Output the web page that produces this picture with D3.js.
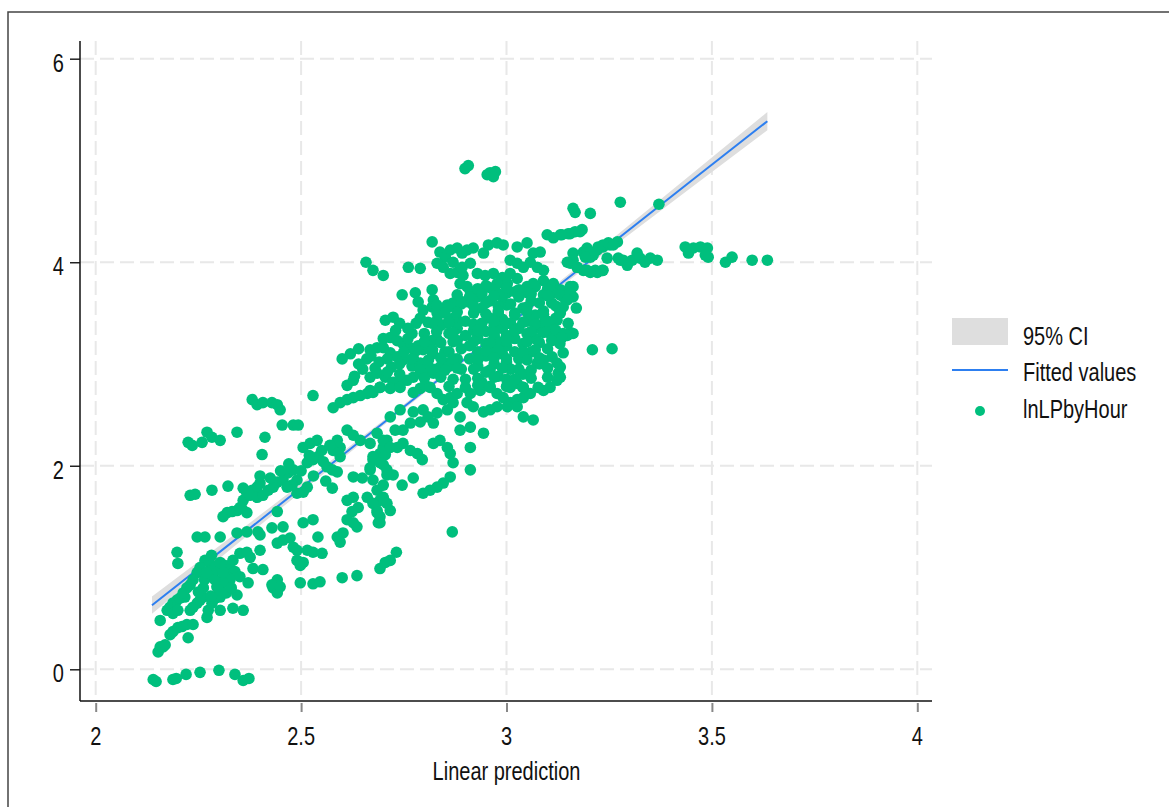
<!DOCTYPE html>
<html>
<head>
<meta charset="utf-8">
<script src="https://cdn.jsdelivr.net/npm/d3@7"></script>
<style>
  body { margin: 0; background: #fff; }
  svg text { font-family: 'Liberation Sans', Arial, sans-serif; fill: #111; }
</style>
</head>
<body>
<svg id="chart" width="1169" height="807"></svg>
<script>
// axis ticks
var xTicks = [2, 2.5, 3, 3.5, 4];
var yTicks = [0, 2, 4, 6];
var xTitle = 'Linear prediction';
var legendLabels = ['95% CI', 'Fitted values', 'lnLPbyHour'];

// fitted line and confidence band
var fitX = [2.137, 2.4, 2.7, 2.95, 3.2, 3.45, 3.635];
var fitY = [0.63, 1.465, 2.42, 3.211, 4.005, 4.80, 5.386];
var ciLow = [0.545, 1.415, 2.395, 3.191, 3.97, 4.735, 5.296];
var ciHigh = [0.715, 1.515, 2.445, 3.231, 4.04, 4.865, 5.476];

// scatter
var bottomRow = [[2.14,-0.10],[2.147,-0.12],[2.188,-0.10],[2.196,-0.09],[2.22,-0.05],[2.254,-0.03],[2.30,-0.01],[2.339,-0.05],[2.359,-0.11],[2.373,-0.09]];

var lowerLeft = [[2.157,0.22],[2.152,0.17],[2.164,0.22],[2.169,0.24],[2.181,0.34],[2.188,0.37],[2.20,0.41],[2.21,0.42],[2.222,0.44],[2.237,0.44],[2.225,0.31],
  [2.157,0.48],[2.174,0.58],[2.181,0.61],[2.188,0.65],[2.198,0.68],[2.205,0.70],[2.217,0.71],[2.188,0.55],[2.20,0.58],
  [2.23,0.58],[2.237,0.61],[2.247,0.65],[2.254,0.68],[2.261,0.71],[2.271,0.51],[2.274,0.58],[2.283,0.65],[2.291,0.70],[2.303,0.71],[2.303,0.58],
  [2.278,1.04],[2.291,1.00],[2.303,1.05],[2.315,1.02],[2.327,0.99],[2.339,0.96],[2.351,0.91],[2.32,0.91],[2.308,0.88],[2.295,0.81],[2.334,1.07],
  [2.351,1.14],[2.368,1.15],[2.376,1.10],[2.371,0.85],[2.344,0.73],[2.334,0.60],[2.359,0.58],[2.327,0.88],[2.31,0.85],
  [2.266,1.07],[2.254,1.00],[2.247,0.95],[2.237,0.88],[2.23,0.83],[2.222,0.80],[2.213,0.75],[2.198,1.15],[2.20,1.04],
  [2.247,1.30],[2.266,1.30],[2.303,1.30],[2.344,1.34],[2.368,1.35],[2.40,1.32],[2.395,1.35],[2.40,1.17],[2.383,0.99],[2.407,0.98],
  [2.442,0.88],[2.432,0.80],[2.429,0.83],[2.442,0.75],[2.449,0.81],[2.498,0.85],[2.529,0.84],[2.546,0.86],[2.60,0.90],[2.636,0.92],
  [2.692,0.99],[2.705,1.05],[2.732,1.15],[2.717,1.07],
  [2.285,0.93],[2.300,0.78],[2.265,0.88],[2.318,0.75],[2.282,1.12],[2.262,0.80],
  [2.27,0.95],[2.29,0.88],[2.31,0.95],[2.33,0.80],[2.25,0.76],[2.28,0.72]];

var leftBand = [[2.23,1.71],[2.242,1.72],[2.283,1.76],[2.322,1.80],[2.31,1.50],[2.32,1.54],[2.332,1.55],[2.344,1.56],[2.356,1.58],[2.368,1.54],
  [2.351,1.59],[2.359,1.66],[2.368,1.73],[2.381,1.76],[2.393,1.79],[2.40,1.83],[2.359,1.78],[2.376,1.71],[2.393,1.69],[2.407,1.71],[2.42,1.76],
  [2.432,1.79],[2.442,1.84],[2.456,1.86],[2.468,1.93],[2.481,1.96],[2.442,1.55],[2.456,1.40],[2.429,1.39],[2.442,1.24],[2.456,1.27],[2.473,1.29],
  [2.481,1.20],[2.49,1.17],[2.49,1.07],[2.498,1.02],[2.505,1.05],[2.505,1.44],[2.529,1.47],[2.515,1.17],[2.529,1.15],[2.551,1.14],[2.541,1.30],
  [2.49,1.73],[2.505,1.74],[2.515,1.79],[2.49,1.86],[2.478,1.81],[2.466,1.79],[2.505,2.18],[2.522,2.22],[2.539,2.25],
  [2.515,2.03],[2.529,2.06],[2.541,2.09],[2.554,2.04],[2.563,1.99],[2.576,1.96],[2.588,1.94],[2.576,1.78],
  [2.225,2.23],[2.235,2.20],[2.259,2.23],[2.271,2.33],[2.283,2.28],[2.303,2.25],[2.344,2.33],
  [2.381,2.65],[2.393,2.60],[2.407,2.62],[2.429,2.62],[2.442,2.60],[2.449,2.55],[2.412,2.28],[2.405,2.11],
  [2.454,2.40],[2.481,2.40],[2.493,2.40],[2.529,2.69],[2.578,2.57],[2.595,2.62],[2.612,2.65],[2.627,2.67],[2.644,2.69],[2.661,2.71],
  [2.675,2.72],[2.692,2.77],[2.612,2.79],[2.627,2.84],[2.612,2.35],[2.627,2.30],[2.644,2.25],[2.588,2.25],[2.595,2.18],[2.578,2.15],[2.595,2.09],
  [2.627,1.89],[2.649,1.88],[2.668,1.96],[2.612,1.66],[2.627,1.69],[2.639,1.59],[2.624,1.55],[2.612,1.47],[2.627,1.44],[2.636,1.40],
  [2.602,1.34],[2.588,1.30],[2.595,1.25],[2.668,1.98],[2.675,2.06],[2.692,2.12],[2.70,2.18],[2.709,2.25],[2.675,1.86],[2.685,1.76],
  [2.692,1.66],[2.685,1.56],[2.692,1.50],[2.688,1.44],[2.661,1.69],[2.675,1.63],[2.705,2.11],[2.70,2.01],[2.709,1.91],[2.70,1.81],
  [2.62,3.10],[2.64,3.15],[2.60,3.05],[2.65,2.95],[2.63,2.88],
  [2.40,1.90],[2.425,1.88],[2.45,1.95],[2.47,2.02],[2.50,1.95],[2.53,1.90],[2.56,1.85],
  [2.55,2.15],[2.57,2.20],[2.52,2.10]];

var midGroup = [[2.675,3.92],[2.70,3.87],[2.761,3.95],[2.79,3.94],[2.746,3.68],[2.778,3.70],[2.785,3.61],[2.819,3.73],[2.822,3.63],
  [2.797,3.53],[2.819,3.56],[2.831,3.50],[2.846,3.53],[2.856,3.58],[2.87,3.60],[2.892,3.61],[2.907,3.61],[2.705,3.43],[2.724,3.46],
  [2.809,3.41],[2.831,3.43],[2.856,3.40],[2.88,3.43],[2.863,3.89],[2.88,3.90],[2.894,3.87],[2.887,3.79],[2.904,3.76],[2.912,3.71],
  [2.929,3.89],[2.948,3.87],[2.968,3.89],[2.99,3.85],[3.009,3.89],[3.026,3.84],[3.002,3.79],[2.977,3.79],[2.96,3.75],[2.977,3.70],[3.002,3.70],[3.021,3.71],
  [3.05,3.76],[3.065,3.79],[3.09,3.82],[3.114,3.79],[3.131,3.73],[3.155,3.76],[3.162,3.66],[3.138,3.66],[3.114,3.70],[3.09,3.68],
  [2.717,3.26],[2.734,3.23],[2.748,3.20],[2.766,3.16],[2.785,3.18],[2.797,3.14],[2.668,3.14],[2.685,3.16],[2.70,3.16],[2.717,3.11],
  [2.734,3.07],[2.748,3.04],[2.773,3.06],[2.79,3.01],[2.807,3.01],[2.668,2.87],[2.685,2.91],[2.705,2.87],[2.724,2.82],[2.741,2.81],
  [2.758,2.84],[2.773,2.87],[2.79,2.91],[2.807,2.94],[2.822,2.91],[2.838,2.97],[2.856,3.01],[2.668,2.74],[2.692,2.77],[2.717,2.76],[2.741,2.77],
  [2.814,3.20],[2.819,3.23],[2.773,2.72],[2.79,2.76],[2.802,2.79],[2.814,2.77],[2.831,2.71],[2.846,2.65],[2.863,2.67],[2.88,2.71],
  [2.741,2.55],[2.773,2.53],[2.797,2.55],[2.809,2.48],[2.79,2.43],[2.822,2.42],[2.831,2.52],[2.856,2.55],[2.87,2.62],
  [2.904,2.62],[2.919,2.58],[2.944,2.53],[2.96,2.55],[2.977,2.58],[2.912,2.71],[2.936,2.74],[2.96,2.77],[2.977,2.71],
  [2.992,2.67],[3.009,2.62],[3.026,2.65],[3.041,2.67],[3.058,2.71],[3.041,2.77],[3.026,2.81],[3.009,2.77],
  [3.002,2.58],[3.026,2.58],[3.041,2.48],[3.065,2.45],[3.075,3.01],[3.09,3.04],[3.111,3.07],[3.123,3.01],[3.126,2.91],[3.123,2.84],
  [3.106,2.77],[3.09,2.74],[3.077,2.77],[3.106,3.30],[3.123,3.26],[3.138,3.30],[3.155,3.31],[3.09,3.40],[3.106,3.36],[3.123,3.43],
  [3.138,3.11],[3.209,3.14],[3.257,3.15],[2.887,2.48],[2.887,2.35],[2.912,2.38],[2.944,2.32],[2.717,2.48],[2.729,2.35],[2.748,2.35],[2.766,2.42],
  [2.685,2.32],[2.70,2.25],[2.717,2.18],[2.734,2.18],[2.748,2.22],[2.766,2.15],[2.783,2.12],[2.795,2.06],
  [2.668,2.22],[2.675,2.09],[2.692,2.03],[2.709,1.96],[2.724,1.91],[2.822,2.22],[2.838,2.25],[2.856,2.18],[2.863,2.12],[2.87,2.03],
  [2.863,1.89],[2.846,1.83],[2.831,1.79],[2.814,1.76],[2.797,1.73],[2.912,2.18],[2.912,1.96],[2.773,1.88],[2.746,1.81],
  [2.70,1.69],[2.709,1.63],[2.717,1.56],[2.685,1.54],[2.692,1.44],[2.868,1.35],
  [2.66,3.05],[2.69,3.02],[2.72,2.97],[2.75,3.12],[2.70,3.25],[2.73,3.33],[2.76,3.25],[2.68,2.96],
  [2.74,3.40],[2.77,3.30],[2.80,3.20],[2.79,3.45],
  [2.64,3.00],[2.67,3.08],[2.71,2.92],[2.74,2.90],[2.77,2.98],[2.71,3.05]];

var coreGroup = [[2.86,3.30],[2.87,3.22],[2.88,3.35],[2.89,3.15],[2.90,3.28],[2.90,3.42],[2.91,3.05],[2.91,3.18],[2.92,3.33],[2.92,3.50],
  [2.93,2.98],[2.93,3.12],[2.93,3.25],[2.94,3.40],[2.94,3.55],[2.95,2.92],[2.95,3.08],[2.95,3.20],[2.95,3.32],[2.96,3.45],[2.96,3.62],
  [2.97,3.00],[2.97,3.15],[2.97,3.28],[2.97,3.38],[2.98,3.50],[2.98,2.88],[2.98,3.22],[2.99,3.10],[2.99,3.35],[2.99,3.44],[3.00,3.02],
  [3.00,3.18],[3.00,3.28],[3.00,3.58],[3.01,3.40],[3.01,2.95],[3.02,3.12],[3.02,3.25],[3.02,3.48],[3.03,3.35],[3.03,3.05],[3.04,3.20],
  [3.04,3.55],[3.05,3.30],[3.05,3.42],[3.06,3.12],[3.06,3.62],[3.07,3.25],[3.07,3.48],[3.08,3.35],[2.88,3.05],[2.89,2.95],[2.87,3.45],
  [2.85,3.12],[2.84,3.38],[2.83,3.25],[2.86,2.98],[2.90,2.85],[2.94,2.82],[2.96,2.78],[3.00,2.85],[3.04,2.90],[3.08,3.00],[3.10,3.15],
  [3.09,3.52],[3.11,3.60],[3.05,3.70],[2.99,3.66],[2.93,3.66],[2.82,3.10],[2.80,3.30],[2.78,3.40],[2.76,3.35],[2.74,3.00],[2.79,2.95],
  [3.12,3.45],[3.13,3.20],[3.15,3.40],[3.17,3.55]];

var coreFill = [[2.93,3.74],[2.95,3.77],[3.00,3.75],[3.03,3.73],[3.07,3.76],[3.10,3.74],
  [2.88,3.68],[2.91,3.66],[2.94,3.69],[2.97,3.67],[3.03,3.66],[3.06,3.69],[3.10,3.67],[3.13,3.68],
  [2.83,3.58],[2.86,3.56],[2.89,3.59],[2.92,3.57],[2.95,3.60],[2.98,3.57],[3.01,3.59],[3.05,3.56],[3.08,3.60],[3.12,3.57],
  [2.85,3.50],[2.88,3.51],[2.95,3.49],[2.98,3.52],[3.02,3.50],[3.05,3.51],[3.09,3.49],[3.13,3.51],
  [2.82,3.40],[2.86,3.41],[2.92,3.39],[2.97,3.42],[3.00,3.40],[3.04,3.41],[3.07,3.39],[3.10,3.42],
  [2.83,3.32],[2.87,3.31],[2.93,3.33],[2.97,3.31],[3.02,3.33],[3.06,3.32],[3.09,3.31],[3.12,3.33],
  [2.80,3.22],[2.84,3.21],[2.88,3.23],[2.92,3.22],[2.96,3.21],[3.00,3.23],[3.05,3.22],[3.08,3.21],[3.11,3.23],
  [2.78,3.13],[2.82,3.14],[2.86,3.12],[2.95,3.13],[2.98,3.14],[3.04,3.12],[3.07,3.14],
  [2.77,3.05],[2.81,3.04],[2.84,3.06],[2.87,3.05],[2.93,3.04],[2.97,3.06],[3.00,3.05],[3.05,3.04],[3.08,3.06],
  [2.82,2.95],[2.85,2.94],[2.88,2.96],[2.92,2.95],[2.96,2.94],[2.99,2.96],[3.03,2.95],[3.06,2.94],[3.10,2.96],
  [2.80,2.86],[2.84,2.87],[2.87,2.85],[2.93,2.86],[2.97,2.87],[3.02,2.85],[3.06,2.86],[3.10,2.87],
  [2.86,2.78],[2.90,2.77],[2.93,2.79],[3.00,2.78],[3.04,2.77]];

var topBand = [[2.819,4.20],[2.838,4.10],[2.851,4.05],[2.863,4.12],[2.88,4.14],[2.892,4.09],[2.904,4.12],[2.919,4.14],[2.944,4.09],[2.956,4.17],
  [2.977,4.19],[2.992,4.17],[3.026,4.15],[3.05,4.19],[3.065,4.09],[3.082,4.10],[3.099,4.27],[3.114,4.24],[3.131,4.27],[3.155,4.28],[3.179,4.30],
  [2.831,3.99],[2.846,3.95],[2.87,4.00],[2.892,3.95],[2.912,3.99],[3.009,4.02],[3.026,3.99],[3.041,3.95],[3.058,4.00],[3.075,3.95],[3.09,3.92],
  [3.162,4.09],[3.187,4.10],[3.204,4.05],[3.221,4.12],[3.235,4.15],[3.252,4.17],[3.27,4.20],[3.155,3.99],[3.172,3.95],[3.196,3.92],[3.221,3.90],
  [3.235,3.92],[3.284,4.02],[3.272,4.04],[2.658,4.00]];

var rightTail = [[3.162,4.53],[3.167,4.49],[3.204,4.48],[3.277,4.59],[3.371,4.57],[3.184,4.32],[3.167,4.30],[3.15,4.28],[3.135,4.27],
  [3.196,4.14],[3.204,4.10],[3.211,4.07],[3.192,4.05],[3.223,4.15],[3.235,4.17],[3.248,4.19],[3.26,4.17],[3.245,4.04],[3.233,3.92],
  [3.216,3.92],[3.204,3.90],[3.187,3.92],[3.172,3.95],[3.162,4.02],[3.148,4.00],[3.277,4.02],[3.294,3.97],[3.306,4.02],[3.318,4.09],
  [3.325,4.04],[3.337,4.00],[3.35,4.04],[3.367,4.02],[3.435,4.15],[3.443,4.09],[3.455,4.14],[3.472,4.15],[3.489,4.14],[3.491,4.05],
  [3.484,4.07],[3.533,4.00],[3.549,4.05],[3.598,4.02],[3.635,4.02],[3.162,3.76],[3.155,3.70],[3.148,3.63],[3.138,3.56],[3.131,3.50],
  [3.162,3.30],[3.148,3.28],[3.135,3.26],[3.131,2.97],[3.131,2.87]];

var topOutliers = [[2.899,4.92],[2.907,4.95],[2.953,4.86],[2.96,4.88],[2.973,4.89],[2.968,4.84]];

var points = [].concat(bottomRow, lowerLeft, leftBand, midGroup, coreGroup, coreFill, topBand, rightTail, topOutliers);

var green = '#00bf7d';
var blue = '#2d7ff0';
var ciGrey = '#dedede';
var gridGrey = '#e8e8e8';
var fontSize = 25;
var squeeze = 0.8; // the reference uses a narrow face

var svg = d3.select('#chart');

// text helper: horizontally condensed label
function label(parent, x, y, str, anchor) {
  return parent.append('text')
    .attr('transform', 'translate(' + x + ',' + y + ') scale(' + squeeze + ',1)')
    .attr('text-anchor', anchor || 'start')
    .attr('font-size', fontSize)
    .text(str);
}

// outer frame
svg.append('rect').attr('x', 8).attr('y', 12).attr('width', 1200).attr('height', 900)
  .attr('fill', 'none').attr('stroke', '#444').attr('stroke-width', 1.5);

var x = d3.scaleLinear().domain([2, 4]).range([95.7, 917.3]);
var y = d3.scaleLinear().domain([0, 6]).range([669.3, 58.7]);
var plot = { left: 80, right: 932, top: 41, bottom: 701 };

// dashed grid
svg.append('g').selectAll('line').data(yTicks).join('line')
  .attr('x1', plot.left).attr('x2', plot.right)
  .attr('y1', function (d) { return y(d); }).attr('y2', function (d) { return y(d); })
  .attr('stroke', gridGrey).attr('stroke-width', 2).attr('stroke-dasharray', '14,6');
svg.append('g').selectAll('line').data(xTicks).join('line')
  .attr('y1', plot.top).attr('y2', plot.bottom)
  .attr('x1', function (d) { return x(d); }).attr('x2', function (d) { return x(d); })
  .attr('stroke', gridGrey).attr('stroke-width', 2).attr('stroke-dasharray', '14,6');

// confidence band + fit
var band = fitX.map(function (v, i) { return { x: v, lo: ciLow[i], hi: ciHigh[i], fit: fitY[i] }; });
svg.append('path').datum(band)
  .attr('fill', ciGrey)
  .attr('d', d3.area().x(function (d) { return x(d.x); }).y0(function (d) { return y(d.lo); }).y1(function (d) { return y(d.hi); }));
svg.append('path').datum(band)
  .attr('fill', 'none').attr('stroke', blue).attr('stroke-width', 2)
  .attr('d', d3.line().x(function (d) { return x(d.x); }).y(function (d) { return y(d.fit); }));

// scatter
svg.append('g').selectAll('circle').data(points).join('circle')
  .attr('cx', function (d) { return x(d[0]); })
  .attr('cy', function (d) { return y(d[1]); })
  .attr('r', 5.8)
  .attr('fill', green);

// axes (tick marks from d3, labels drawn condensed)
var yAxis = svg.append('g').attr('transform', 'translate(' + plot.left + ',0)')
  .call(d3.axisLeft(y).tickValues(yTicks).tickSize(10).tickFormat(''));
yAxis.select('.domain').remove();
yAxis.selectAll('.tick line').attr('stroke', '#222').attr('stroke-width', 1.5);
yTicks.forEach(function (t) { label(svg, 64, y(t) + 13, d3.format('d')(t), 'end'); });

var xAxis = svg.append('g').attr('transform', 'translate(0,' + (plot.bottom + 2) + ')')
  .call(d3.axisBottom(x).tickValues(xTicks).tickSize(9).tickFormat(''));
xAxis.select('.domain').remove();
xAxis.selectAll('.tick line').attr('stroke', '#888').attr('stroke-width', 2);
xTicks.forEach(function (t) { label(svg, x(t), 745, String(t), 'middle'); });

svg.append('line').attr('x1', plot.left).attr('x2', plot.left).attr('y1', plot.top).attr('y2', plot.bottom)
  .attr('stroke', '#111').attr('stroke-width', 1.5);
svg.append('line').attr('x1', plot.left).attr('x2', plot.right).attr('y1', plot.bottom).attr('y2', plot.bottom)
  .attr('stroke', '#111').attr('stroke-width', 1.5);

label(svg, (x(2) + x(4)) / 2, 780, xTitle, 'middle');

// legend
var lg = svg.append('g');
lg.append('rect').attr('x', 952).attr('y', 318).attr('width', 56).attr('height', 27).attr('fill', ciGrey);
lg.append('line').attr('x1', 952).attr('x2', 1008).attr('y1', 370).attr('y2', 370).attr('stroke', blue).attr('stroke-width', 2);
lg.append('circle').attr('cx', 980).attr('cy', 411).attr('r', 5).attr('fill', green);
legendLabels.forEach(function (t, i) { label(lg, 1023, [345, 381, 418][i], t, 'start'); });
</script>
</body>
</html>
